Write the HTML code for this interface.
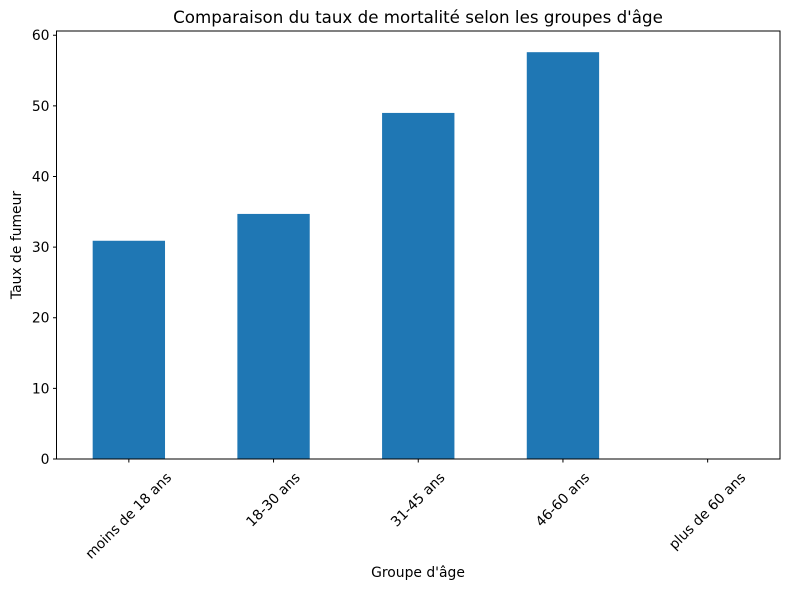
<!DOCTYPE html>
<html><head><meta charset="utf-8"><style>
body{margin:0;background:#fff;font-family:"Liberation Sans","DejaVu Sans",sans-serif;}
svg text{font-family:"DejaVu Sans","Liberation Sans",sans-serif;fill:#000;}
</style></head><body>
<svg id="chart" width="790" height="590">
<text x="418" y="23" font-size="16.7" text-anchor="middle">Comparaison du taux de mortalité selon les groupes d'âge</text>
<text x="418" y="577" font-size="13.9" text-anchor="middle">Groupe d'âge</text>
<text transform="translate(21,245) rotate(-90)" font-size="13.9" text-anchor="middle">Taux de fumeur</text>
<g id="bars"></g><g id="axes"></g>
</svg>
<script>
const categories=["moins de 18 ans","18-30 ans","31-45 ans","46-60 ans","plus de 60 ans"];
const values=[30.9,34.7,49.0,57.6,0];
const yTicks=[0,10,20,30,40,50,60];
const L=56.5,R=780,T=31,B=459,yMax=60.6;
const ns="http://www.w3.org/2000/svg";
const y=v=>B-(v/yMax)*(B-T);
const step=(R-L)/categories.length;
const xc=i=>L+step*(i+0.5);
const bw=step*0.5;
const bars=document.getElementById('bars'),axes=document.getElementById('axes');
function mk(tag,attrs,parent){const e=document.createElementNS(ns,tag);for(const k in attrs)e.setAttribute(k,attrs[k]);parent.appendChild(e);return e;}
values.forEach((v,i)=>{
 const r=mk('rect',{x:xc(i)-bw/2,y:y(v),width:bw,height:B-y(v),fill:'#1f77b4'},bars);
 
 
});
const f=mk('rect',{x:L,y:T,width:R-L,height:B-T,fill:'none',stroke:'#000','stroke-width':1},axes);


yTicks.forEach(t=>{
 mk('line',{x1:L-3.5,x2:L,y1:y(t),y2:y(t),stroke:'#000'},axes);
 const tx=mk('text',{x:L-7,y:y(t)+5,'font-size':13.9,'text-anchor':'end'},axes);
 tx.textContent=t;
 
 
});
categories.forEach((c,i)=>{
 mk('line',{x1:xc(i),x2:xc(i),y1:B,y2:B+3.5,stroke:'#000'},axes);
 const tx=mk('text',{x:0,y:0,'font-size':13.9,'text-anchor':'middle','dominant-baseline':'central'},axes);
 tx.textContent=c;
 
 
 const w=tx.getComputedTextLength(),h=13;
 const cy=471+(w+h)*0.7071/2;
 tx.setAttribute('transform',`translate(${xc(i)},${cy}) rotate(-45)`);
});
</script>
</body></html>
